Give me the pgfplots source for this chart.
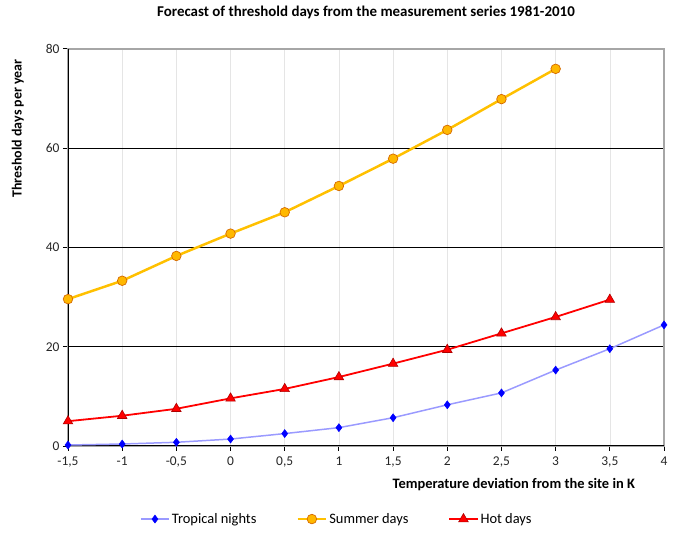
\documentclass[border=0pt]{standalone}
\usepackage{pgfplots}
\pgfplotsset{compat=1.18}
\usepackage{fontspec}
\setmainfont{Carlito}
\definecolor{sumline}{HTML}{FFC000}
\definecolor{sumfill}{HTML}{FFB800}
\definecolor{sumedge}{HTML}{D56A00}
\definecolor{hotline}{HTML}{FF0000}
\definecolor{hotedge}{HTML}{B00000}
\definecolor{tropline}{HTML}{9A9AFF}
\definecolor{tropfill}{HTML}{0000FF}

\pgfplotstableread{
x    y
-1.5 0.2
-1   0.4
-0.5 0.75
0    1.4
0.5  2.5
1    3.7
1.5  5.7
2    8.3
2.5  10.7
3    15.3
3.5  19.6
4    24.4
}\tropical

\pgfplotstableread{
x    y
-1.5 29.6
-1   33.3
-0.5 38.3
0    42.8
0.5  47.1
1    52.4
1.5  57.9
2    63.7
2.5  69.9
3    76.0
}\summer

\pgfplotstableread{
x    y
-1.5 5.0
-1   6.1
-0.5 7.5
0    9.6
0.5  11.5
1    13.9
1.5  16.6
2    19.4
2.5  22.7
3    26.0
3.5  29.5
}\hot

\begin{document}
\begin{tikzpicture}
\useasboundingbox (0,0) rectangle (679bp,538bp);
\begin{axis}[
  at={(68bp,92bp)}, anchor=south west,
  scale only axis, width=596bp, height=397bp,
  xmin=-1.5, xmax=4, ymin=0, ymax=80,
  xtick={-1.5,-1,-0.5,0,0.5,1,1.5,2,2.5,3,3.5,4},
  ytick={0,20,40,60,80},
  /pgf/number format/use comma,
  /pgf/number format/assume math mode=true,
  tick label style={font=\fontsize{13.5}{15}\selectfont, text=black!85},
  xticklabel style={yshift=-2bp},
  ymajorgrids, xmajorgrids,
  y grid style={black, line width=0.8pt},
  x grid style={black!10, line width=0.6pt},
  axis line style={draw=black!35, line width=1.2pt},
  tick align=outside, tick pos=left,
  major tick length=5bp,
  tick style={black, line width=1pt},
  title={Forecast of threshold days from the measurement series 1981-2010},
  title style={at={(axis description cs:0.5,1.078)}, anchor=center, yshift=0pt,
    font=\bfseries\fontsize{15}{17}\selectfont},
  xlabel={Temperature deviation from the site in K},
  xlabel style={at={(axis description cs:0.748,-0.098)}, anchor=center,
    font=\bfseries\fontsize{14.5}{17}\selectfont},
  ylabel={Threshold days per year},
  ylabel style={at={(axis description cs:-0.084,0.80)}, anchor=center,
    font=\bfseries\fontsize{14}{16}\selectfont},
  legend style={at={(axis description cs:0.451,-0.184)}, anchor=center,
    draw=none, font=\fontsize{14.5}{17}\selectfont,
    /tikz/every even column/.append style={column sep=38bp}},
  legend columns=3,
  legend image code/.code={\draw[mark repeat=2,mark phase=2]
    plot coordinates {(0cm,0cm) (0.5cm,0cm) (1cm,0cm)};},
]
\draw[black, line width=1.5pt] (rel axis cs:0,1) -- (rel axis cs:0,0) -- (rel axis cs:1,0);
\addplot[tropline, line width=1.5pt, mark=diamond*, mark size=4bp,
  mark options={fill=tropfill, draw=tropfill, line width=0.5pt}] table[x=x,y=y] {\tropical};
\addlegendentry{Tropical nights}
\addplot[sumline, line width=2.5pt, mark=*, mark size=4.8bp,
  mark options={fill=sumfill, draw=sumedge, line width=0.7pt}] table[x=x,y=y] {\summer};
\addlegendentry{Summer days}
\addplot[hotline, line width=1.8pt, mark=triangle*, mark size=5.5bp,
  mark options={fill=hotline, draw=hotedge, line width=0.6pt}] table[x=x,y=y] {\hot};
\addlegendentry{Hot days}
\end{axis}
\end{tikzpicture}
\end{document}
